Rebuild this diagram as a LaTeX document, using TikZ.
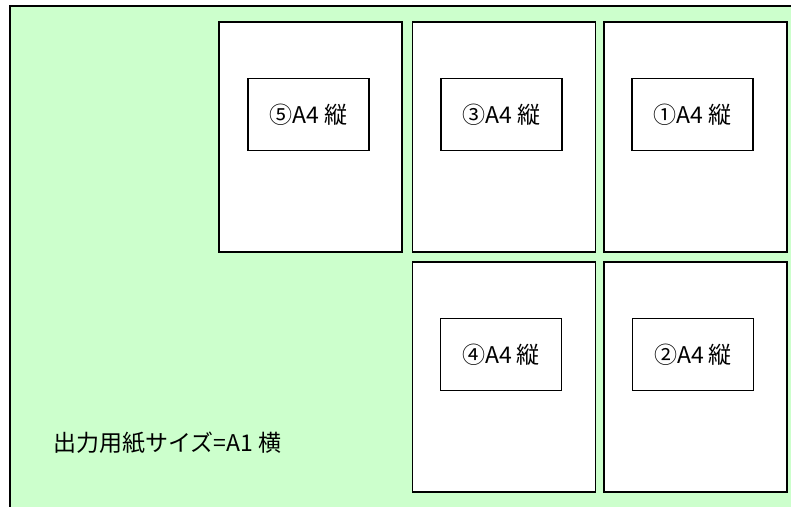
\documentclass[tikz,border=0pt]{standalone}
\usepackage{fontspec}
\newfontfamily\jp{Noto Sans CJK JP}
\definecolor{papergreen}{HTML}{CCFFCC}

\begin{document}
\begin{tikzpicture}[x=1pt, y=-1pt,
  page/.style={rectangle, draw, fill=white, line width=1.1pt, minimum width=183pt, minimum height=230pt, inner sep=0pt},
  tag/.style={rectangle, draw, fill=white, line width=1.1pt, minimum width=121pt, minimum height=72pt, inner sep=0pt, font=\jp\fontsize{23}{25}\selectfont}]
\useasboundingbox (0,0) rectangle (791,506);
\clip (0,0) rectangle (791,506);
\draw[fill=papergreen, line width=1.1pt] (10,6) rectangle (820,530);

\node[page] (p5) at (310.5,137) {};
\node[page] (p3) at (504,137) {};
\node[page] (p1) at (695.5,137) {};
\node[page] (p4) at (504,377) {};
\node[page] (p2) at (695.5,377) {};

\node[tag] (t5) at (308.5,114.5) {⑤A4 縦};
\node[tag] (t3) at (501.5,114.5) {③A4 縦};
\node[tag] (t1) at (692.5,114.5) {①A4 縦};
\node[tag] (t4) at (501,354.5) {④A4 縦};
\node[tag] (t2) at (693,354.5) {②A4 縦};

\node[anchor=west, inner sep=0pt, font=\jp\fontsize{23}{25}\selectfont] (size) at (53,443) {出力用紙サイズ=A1 横};
\end{tikzpicture}
\end{document}
